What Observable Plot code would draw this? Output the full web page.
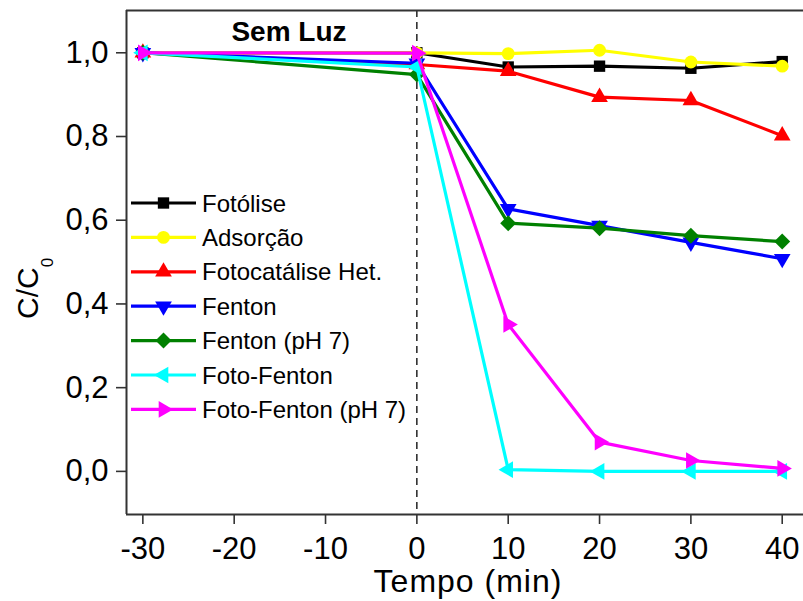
<!DOCTYPE html>
<html>
<head>
<meta charset="utf-8">
<script src="https://cdn.jsdelivr.net/npm/d3@7"></script>
<script src="https://cdn.jsdelivr.net/npm/@observablehq/plot@0.6"></script>
<style>
  html, body { margin: 0; padding: 0; background: #fff; }
  #chart { width: 803px; height: 601px; }
</style>
</head>
<body>
<div id="chart"></div>
<script>
// ---- data ----
const times = [-30, 0, 10, 20, 30, 40];
const seriesNames = ["Fotólise", "Adsorção", "Fotocatálise Het.", "Fenton", "Fenton (pH 7)", "Foto-Fenton", "Foto-Fenton (pH 7)"];
const fotolise      = [1.000, 1.000, 0.966, 0.968, 0.963, 0.979];
const adsorcao      = [1.000, 1.000, 0.998, 1.006, 0.978, 0.968];
const fotocatalise  = [1.000, 0.972, 0.956, 0.894, 0.886, 0.802];
const fenton        = [1.000, 0.975, 0.627, 0.587, 0.547, 0.508];
const fentonPH7     = [1.000, 0.948, 0.593, 0.581, 0.563, 0.549];
const fotoFenton    = [1.000, 0.966, 0.004, 0.000, 0.000, 0.000];
const fotoFentonPH7 = [1.000, 0.999, 0.351, 0.070, 0.026, 0.007];
const xTicks = [-30, -20, -10, 0, 10, 20, 30, 40];
const yTicks = [0.0, 0.2, 0.4, 0.6, 0.8, 1.0];
const annotationText = "Sem Luz";
const xLabel = "Tempo (min)";

// ---- styles ----
function tri(angleDeg) {
  const a = angleDeg * Math.PI / 180, c = Math.cos(a), s = Math.sin(a);
  return {
    draw(ctx, size) {
      const y = -Math.sqrt(size / (3 * Math.sqrt(3)));
      const pts = [[0, 2 * y], [-Math.sqrt(3) * y, -y], [Math.sqrt(3) * y, -y]]
        .map(([px, py]) => [px * c - py * s, px * s + py * c]);
      ctx.moveTo(pts[0][0], pts[0][1]);
      ctx.lineTo(pts[1][0], pts[1][1]);
      ctx.lineTo(pts[2][0], pts[2][1]);
      ctx.closePath();
    }
  };
}
const colors  = ["#000000", "#ffff00", "#ff0000", "#0000ff", "#008000", "#00ffff", "#ff00ff"];
const symbols = [d3.symbolSquare, d3.symbolCircle, tri(0), tri(180), d3.symbolDiamond2, tri(-90), tri(90)];
const radii   = [6.4, 6.4, 6.2, 6.2, 7.2, 6.2, 6.2];

const allValues = [fotolise, adsorcao, fotocatalise, fenton, fentonPH7, fotoFenton, fotoFentonPH7];
const series = seriesNames.map((name, i) => ({
  name,
  rows: times.map((t, j) => ({ t, v: allValues[i][j] }))
}));

const xDomain = [-31.79, 42.33];
const yDomain = [-0.103, 1.101];
const fmt = d => d.toFixed(1).replace(".", ",");
const FONT = "'Liberation Sans', Arial, Helvetica, sans-serif";

const marks = [
  Plot.ruleX([0], { stroke: "#000", strokeWidth: 1.3, strokeDasharray: "7,5" }),
  Plot.axisX({ ticks: xTicks, tickSize: 10, tickPadding: 12, fontSize: 31, label: null, stroke: "#333", strokeWidth: 1.6, color: "#000", tickFormat: d => String(d) }),
  Plot.axisY({ ticks: yTicks, tickSize: 10, tickPadding: 8, fontSize: 31, label: null, stroke: "#333", strokeWidth: 1.6, tickFormat: fmt }),
  Plot.ruleX([xDomain[0]], { stroke: "#333", strokeWidth: 2 }),
  Plot.ruleY([yDomain[0]], { stroke: "#333", strokeWidth: 2 }),
  Plot.ruleY([yDomain[1]], { stroke: "#333", strokeWidth: 2 }),
  Plot.text([annotationText], { frameAnchor: "top-left", dx: 162.5, dy: 22, text: d => d, fontSize: 28, fontWeight: "bold", textAnchor: "middle", lineAnchor: "middle", fill: "#000" })
];
series.forEach((s, i) => {
  marks.push(Plot.line(s.rows, { x: "t", y: "v", stroke: colors[i], strokeWidth: 3.2 }));
  marks.push(Plot.dot(s.rows, { x: "t", y: "v", symbol: () => symbols[i], r: radii[i], fill: colors[i], stroke: "none" }));
});

const plot = Plot.plot({
  width: 803, height: 601,
  marginLeft: 126, marginRight: 0, marginTop: 10, marginBottom: 87,
  x: { domain: xDomain },
  y: { domain: yDomain },
  symbol: { type: "identity" },
  style: { fontFamily: FONT, background: "#fff", color: "#000", overflow: "visible" },
  marks
});

const svg = d3.select(plot);
// y label C/C0
const yl = svg.append("text")
  .attr("transform", "translate(37.5,319) rotate(-90)")
  .attr("text-anchor", "start")
  .attr("font-family", FONT).attr("font-size", 30).attr("fill", "#000");
yl.append("tspan").text("C/C");
yl.append("tspan").attr("font-size", 17).attr("dy", 15).text("0");
// x label
svg.append("text")
  .attr("x", 468).attr("y", 592)
  .attr("text-anchor", "middle")
  .attr("font-family", FONT).attr("font-size", 32).attr("letter-spacing", 1)
  .attr("fill", "#000").text(xLabel);
// legend
const lg = svg.append("g").attr("font-family", FONT).attr("font-size", 24).attr("text-anchor", "start");
series.forEach((s, i) => {
  const y = 203 + i * 34.4;
  lg.append("line").attr("x1", 131).attr("x2", 196).attr("y1", y).attr("y2", y)
    .attr("stroke", colors[i]).attr("stroke-width", 3.2);
  lg.append("path").attr("transform", `translate(163.5,${y})`)
    .attr("d", d3.symbol(symbols[i], Math.PI * radii[i] * radii[i])())
    .attr("fill", colors[i]);
  lg.append("text").attr("x", 202).attr("y", y).attr("dy", "0.36em")
    .attr("text-anchor", "start")
    .attr("fill", "#000").text(s.name);
});

document.getElementById("chart").appendChild(plot);
</script>
</body>
</html>
